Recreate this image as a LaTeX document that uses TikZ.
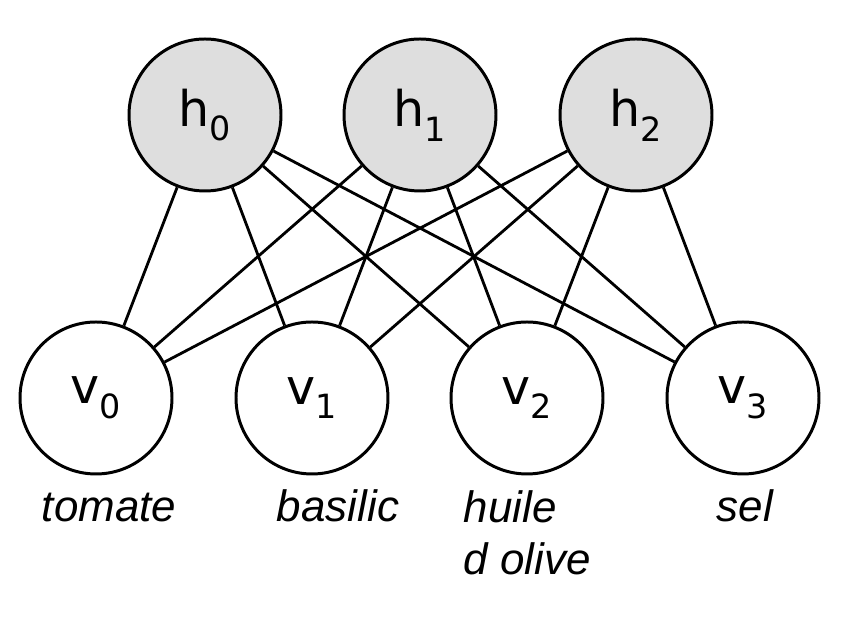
\documentclass[tikz,border=0pt]{standalone}
\usepackage{fontspec}
\usepackage{xcolor}
\setmainfont{Liberation Sans}
\newfontfamily\dejavu{DejaVu Sans}
\definecolor{hiddengray}{RGB}{222,222,222}
\newcommand*{\unitlbl}[2]{{\dejavu\fontsize{14}{17}\selectfont #1\raisebox{-0.3em}{\fontsize{9.5}{11}\selectfont #2}}}

\begin{document}
\begin{tikzpicture}[
    unit/.style={circle, draw, line width=0.85pt, minimum size=1.52cm, inner sep=0pt},
    hunit/.style={unit, fill=hiddengray},
    word/.style={font=\fontsize{12.5}{15}\selectfont\itshape}
]
    \useasboundingbox (0,0) rectangle (8.68,6.18);
    % hidden layer
    \foreach \i/\x in {0/2.05,1/4.20,2/6.36}
        \node[hunit] (h\i) at (\x,5.03) {\unitlbl{h}{\i}};
    % visible layer
    \foreach \j/\x in {0/0.96,1/3.12,2/5.27,3/7.43}
        \node[unit] (v\j) at (\x,2.20) {\unitlbl{v}{\j}};
    \foreach \i in {0,1,2}
        \foreach \j in {0,...,3}
            \draw[line width=0.8pt] (h\i) -- (v\j);
    % words
    \node[word, anchor=base] (w0) at (1.09,0.96) {tomate};
    \node[word, anchor=base] (w1) at (3.38,0.96) {basilic};
    \node[word, anchor=base west, align=left, inner sep=0pt] (w2) at (4.63,0.43) {huile\\d olive};
    \node[word, anchor=base] (w3) at (7.45,0.96) {sel};
\end{tikzpicture}
\end{document}
